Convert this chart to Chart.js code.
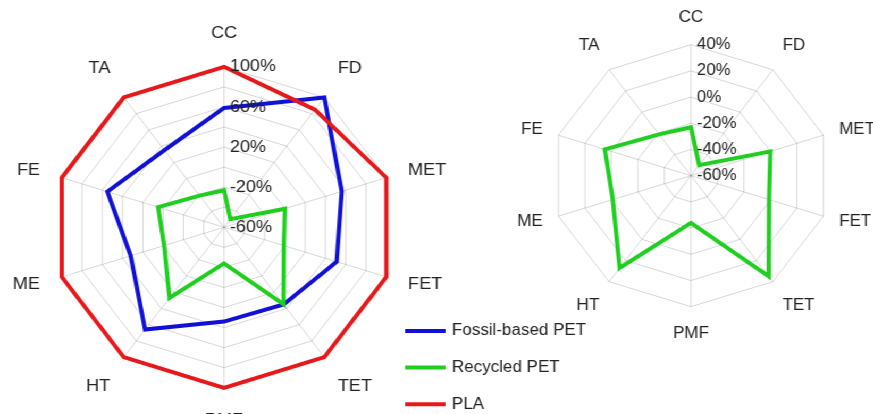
<!DOCTYPE html>
<html>
<head>
<meta charset="utf-8">
<script src="https://cdn.jsdelivr.net/npm/chart.js@4/dist/chart.umd.min.js"></script>
<style>
  html, body { margin: 0; padding: 0; background: #fff; overflow: hidden; }
  #wrap { position: absolute; left: 0; top: 0; width: 821px; height: 414px;
          transform: scaleX(1.0633); transform-origin: 0 0; }
  #wrap canvas { position: absolute; left: 0; top: 0; }
</style>
</head>
<body>
<div id="wrap">
  <canvas id="left" width="821" height="414"></canvas>
  <canvas id="right" width="821" height="414"></canvas>
</div>
<script>
// Impact categories around the radar
const categories = ['CC', 'FD', 'MET', 'FET', 'TET', 'PMF', 'HT', 'ME', 'FE', 'TA'];

// Relative impact (%) per category
const fossilPET   = [59, 100, 56, 51, 35, 34, 66, 32, 55, 35];
const recycledPET = [-23, -50, 0, -1, 35, -24, 27, -1, 5, -21];
const pla         = [100, 85, 100, 100, 100, 100, 100, 100, 100, 100];

// Labelled rings on each radar
const leftTicks  = [-60, -20, 20, 60, 100];
const rightTicks = [-60, -40, -20, 0, 20, 40];

const FONT = '"Liberation Sans", Arial, sans-serif';
const TEXT = '#232323';
const GRID = 'rgba(0,0,0,0.16)';
const COLORS = { fossil: '#1010d8', recycled: '#1fcf1f', pla: '#e8181a' };

function radarScale(min, max, step, cx, cy, radius) {
  return {
    r: {
      min: min, max: max,
      ticks: { stepSize: step, display: false },
      pointLabels: { display: false },
      grid: { color: GRID, lineWidth: 1 },
      angleLines: { color: GRID, lineWidth: 1 },
      afterFit: (s) => { s.xCenter = cx; s.yCenter = cy; s.drawingArea = radius; }
    }
  };
}

// Writes ring values beside the vertical axis and category names around the rim
function labelPlugin(tickValues, fontSize, labelGap) {
  return {
    id: 'radarText',
    afterDraw(chart) {
      const s = chart.scales.r;
      const ctx = chart.ctx;
      ctx.save();
      ctx.fillStyle = TEXT;
      ctx.font = fontSize + 'px ' + FONT;
      ctx.textBaseline = 'middle';
      ctx.textAlign = 'left';
      tickValues.forEach(v => {
        const d = s.getDistanceFromCenterForValue(v);
        ctx.fillText(v + '%', s.xCenter + 5.5, s.yCenter - d);
      });
      const n = chart.data.labels.length;
      chart.data.labels.forEach((lab, i) => {
        const a = i * 2 * Math.PI / n;
        const sn = Math.sin(a), cs = Math.cos(a);
        const p = s.getPointPosition(i, s.drawingArea + labelGap);
        // labels near top/bottom sit clear of the rim; side labels stay centred on the spoke
        const dy = Math.abs(cs) > 0.5 ? Math.sign(cs) * 11.5 : cs * 3;
        ctx.textAlign = Math.abs(sn) < 0.05 ? 'center' : (sn > 0 ? 'left' : 'right');
        ctx.fillText(lab, p.x, p.y - dy);
      });
      ctx.restore();
    }
  };
}

const legendPlugin = {
  id: 'sideLegend',
  afterDraw(chart) {
    const ctx = chart.ctx;
    ctx.save();
    ctx.font = '16px ' + FONT;
    ctx.fillStyle = TEXT;
    ctx.textAlign = 'left';
    ctx.textBaseline = 'middle';
    [0, 1, 2].forEach((k, row) => {
      const ds = chart.data.datasets.find(d => d.legendIndex === k);
      const y = 331 + row * 36.6;
      ctx.strokeStyle = ds.borderColor;
      ctx.lineWidth = 4;
      ctx.beginPath();
      ctx.moveTo(381, y);
      ctx.lineTo(419, y);
      ctx.stroke();
      ctx.fillText(ds.label, 425, y);
    });
    ctx.restore();
  }
};

function line(label, data, color, order, legendIndex) {
  return {
    label: label, data: data, borderColor: color, backgroundColor: 'transparent',
    borderWidth: 4, fill: false, pointRadius: 0, pointHoverRadius: 0,
    tension: 0, borderJoinStyle: 'miter', order: order, legendIndex: legendIndex
  };
}

const common = {
  responsive: false,
  animation: false,
  events: [],
  layout: { padding: 0 },
  plugins: { legend: { display: false }, tooltip: { enabled: false } }
};

new Chart(document.getElementById('left'), {
  type: 'radar',
  data: {
    labels: categories,
    datasets: [
      line('Fossil-based PET', fossilPET, COLORS.fossil, 2, 0),
      line('Recycled PET', recycledPET, COLORS.recycled, 1, 1),
      line('PLA', pla, COLORS.pla, 0, 2)
    ]
  },
  options: Object.assign({}, common, {
    scales: radarScale(-60, 100, 20, 210.7, 227.3, 160.5)
  }),
  plugins: [labelPlugin(leftTicks, 17, 21.5), legendPlugin]
});

new Chart(document.getElementById('right'), {
  type: 'radar',
  data: {
    labels: categories,
    datasets: [ line('Recycled PET', recycledPET, COLORS.recycled, 0, 1) ]
  },
  options: Object.assign({}, common, {
    scales: radarScale(-60, 40, 20, 649.8, 175.7, 131)
  }),
  plugins: [labelPlugin(rightTicks, 16, 15.5)]
});
</script>
</body>
</html>
